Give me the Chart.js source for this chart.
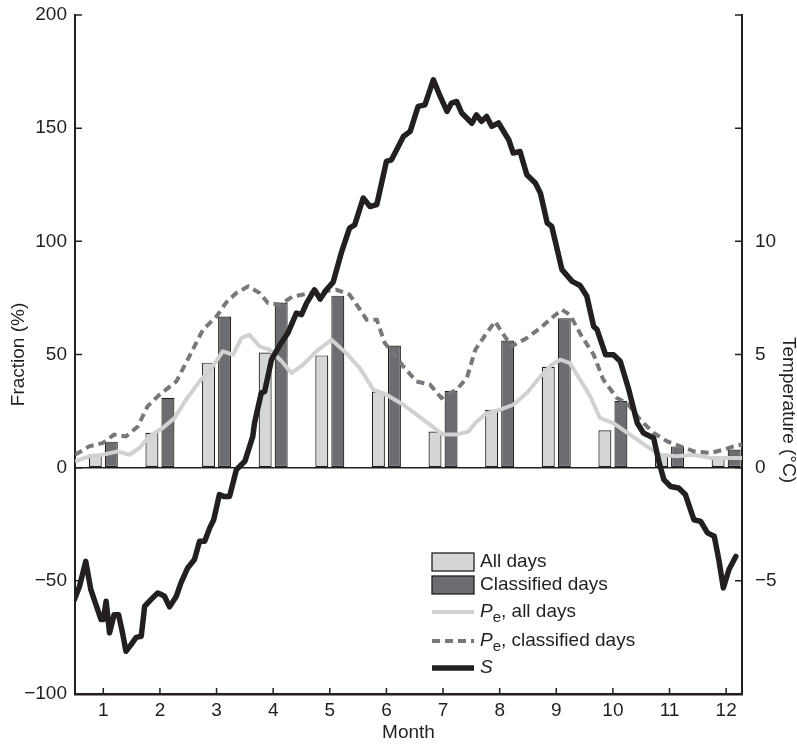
<!DOCTYPE html>
<html>
<head>
<meta charset="utf-8">
<script src="https://cdn.jsdelivr.net/npm/chart.js@4"></script>
<style>
  body { margin: 0; background: #fff; }
</style>
</head>
<body>
<canvas id="chart" width="797" height="746"></canvas>
<script>
// monthly bar fractions (%)
var months = [1, 2, 3, 4, 5, 6, 7, 8, 9, 10, 11, 12];
var allDays = [6, 15.4, 46.4, 50.9, 49.6, 33.6, 16, 25.6, 44.6, 16.5, 5.5, 5];
var classifiedDays = [11.5, 30.9, 66.8, 73, 76, 54, 34, 56.2, 66, 29.5, 9.4, 8];

// Pe, all days (light solid line)
var peAllMonth = [0.5, 0.75, 0.99, 1.25, 1.46, 1.64, 1.81, 2.05, 2.26, 2.46, 2.7, 2.91,
  3.11, 3.29, 3.44, 3.58, 3.76, 3.94, 4.15, 4.32, 4.53, 4.76, 5.03, 5.29, 5.53, 5.77,
  6.0, 6.3, 6.65, 7.0, 7.24, 7.45, 7.57, 7.77, 8.01, 8.24, 8.48, 8.72, 8.92, 9.07,
  9.24, 9.42, 9.6, 9.77, 10.01, 10.3, 10.6, 10.83, 11.13, 11.43, 11.73, 12.02, 12.28];
var peAllValue = [2.8, 5, 5.7, 7.2, 5.7, 8.7, 13.8, 17.5, 22, 30, 38.1, 44,
  51.4, 49.9, 57.3, 58.7, 53.6, 52.1, 47, 41.8, 45.5, 51.4, 56.5, 50.6, 44, 34.5,
  32.2, 27.8, 21.2, 14.6, 14.6, 16, 19.7, 24.1, 25.6, 27.8, 33, 40.3, 45.5, 47.7,
  46.2, 38.9, 31.5, 22, 19.7, 14.6, 9.4, 5.7, 5, 5.7, 4.3, 4.3, 4.3];

// Pe, classified days (dashed line)
var peClsMonth = [0.5, 0.75, 0.99, 1.19, 1.4, 1.61, 1.78, 1.99, 2.29, 2.52, 2.76, 3.0,
  3.17, 3.35, 3.56, 3.76, 3.91, 4.12, 4.35, 4.7, 5.12, 5.35, 5.53, 5.65, 5.83, 5.97,
  6.3, 6.53, 6.77, 6.97, 7.24, 7.42, 7.57, 7.77, 7.92, 8.01, 8.21, 8.48, 8.72, 8.95,
  9.1, 9.24, 9.45, 9.66, 9.83, 10.07, 10.25, 10.48, 10.72, 10.96, 11.19, 11.43, 11.73,
  11.96, 12.13, 12.28];
var peClsValue = [5.7, 9.4, 10.9, 14.6, 13.8, 18.2, 27.1, 32.2, 38.1, 49.2, 61, 66.8,
  73, 77.2, 80.1, 77.2, 72.7, 72, 75.7, 77.2, 78.6, 76.4, 70, 65.4, 65.4, 55.1,
  44.7, 38.1, 36.7, 30.8, 34.5, 39.6, 52.1, 59.5, 64.6, 61, 53.6, 57.3, 61.7, 66.8,
  69.8, 67.6, 58, 49.9, 38.9, 30.8, 28.6, 21.2, 15.3, 11.6, 9.4, 7.2, 6.5,
  8, 9.4, 10.2];

// S (thick black line)
var sMonth = [0.49, 0.58, 0.69, 0.78, 0.87, 0.96, 1.0, 1.05, 1.11, 1.19, 1.27, 1.34,
  1.4, 1.49, 1.58, 1.67, 1.73, 1.84, 1.96, 2.02, 2.08, 2.17, 2.29, 2.37, 2.49, 2.61,
  2.7, 2.79, 2.88, 2.95, 3.05, 3.13, 3.23, 3.35, 3.5, 3.64, 3.67, 3.79, 3.85, 3.97,
  4.12, 4.26, 4.41, 4.5, 4.59, 4.73, 4.83, 4.94, 5.06, 5.21, 5.35, 5.44, 5.59, 5.71,
  5.83, 6.0, 6.09, 6.3, 6.42, 6.56, 6.68, 6.83, 6.95, 7.07, 7.15, 7.24, 7.33, 7.51,
  7.59, 7.68, 7.77, 7.86, 7.98, 8.16, 8.24, 8.36, 8.48, 8.63, 8.72, 8.84, 8.92, 9.1,
  9.28, 9.42, 9.54, 9.66, 9.72, 9.87, 10.01, 10.13, 10.28, 10.43, 10.54, 10.72, 10.81,
  10.9, 11.02, 11.16, 11.28, 11.43, 11.55, 11.67, 11.79, 11.87, 11.95, 12.05, 12.17];
var sValue = [-58.3, -52.4, -41.4, -53.9, -60.5, -67.1, -67.1, -59, -73, -65, -65, -73,
  -81.1, -78.2, -75, -74.5, -61.3, -58.3, -55.4, -56, -56.8, -61.5, -56.8, -51, -44.3, -40.6,
  -32.5, -32.5, -26.6, -23, -11.9, -12.7, -12.7, -0.9, 2.8, 13.8, 19.7, 33, 33.7, 47.7,
  54.3, 59.5, 68.3, 67.6, 72.7, 78.6, 74.5, 78.6, 82, 95.5, 105.9, 107.3, 119.1, 115.4,
  116.2, 135.3, 136, 146.3, 148.6, 159.6, 160.3, 171.4, 164, 157.4, 161.1, 161.8, 156.7, 152.2,
  155.9, 153, 155.2, 150.8, 152.3, 144.9, 139, 139.7, 129.4, 125.8, 121.3, 108.1, 106.6, 87.5,
  82.3, 80.5, 75.7, 62.4, 61, 49.9, 49.9, 47, 34.5, 19.7, 15.3, 13.1, 2.8,
  -5.3, -8.3, -9, -11.9, -23, -23.7, -28.8, -30.3, -40.6, -53.1, -45, -39.2];

var INK = '#231f20';
var FONT = '"Liberation Sans", Arial, Helvetica, sans-serif';

function points(xs, ys) {
  return xs.map(function (x, i) { return { x : x, y : ys[i] }; });
}

function signed(v) {
  return String(v).replace('-', '\u2212');
}

// inward tick marks, in-plot legend and the right axis title
var decor = {
  id : 'decor',
  afterDraw : function (chart) {
    var ctx = chart.ctx;
    var area = chart.chartArea;
    var sx = chart.scales.x;
    var sy = chart.scales.y;
    var sy1 = chart.scales.y1;

    ctx.save();
    ctx.strokeStyle = INK;
    ctx.lineWidth = 1.5;
    ctx.beginPath();
    sx.ticks.forEach(function (t) {
      var p = sx.getPixelForValue(t.value);
      ctx.moveTo(p, area.bottom);
      ctx.lineTo(p, area.bottom - 6);
    });
    sy.ticks.forEach(function (t) {
      var p = sy.getPixelForValue(t.value);
      ctx.moveTo(area.left, p);
      ctx.lineTo(area.left + 7, p);
    });
    sy1.ticks.forEach(function (t) {
      var p = sy1.getPixelForValue(t.value);
      ctx.moveTo(area.right, p);
      ctx.lineTo(area.right - 7, p);
    });
    ctx.stroke();

    // legend
    var rows = [562, 585, 612, 641, 668];
    var boxX = 432, boxW = 42, textX = 480;
    ctx.textBaseline = 'middle';
    ctx.textAlign = 'left';
    ctx.fillStyle = INK;
    chart.data.datasets.forEach(function (ds) {
      var y = rows[ds.legendRow];
      ctx.save();
      if (ds.type === 'line') {
        ctx.strokeStyle = ds.borderColor;
        ctx.lineWidth = ds.borderWidth;
        ctx.setLineDash(ds.borderDash || []);
        ctx.beginPath();
        ctx.moveTo(boxX, y);
        ctx.lineTo(boxX + boxW, y);
        ctx.stroke();
      } else {
        ctx.fillStyle = ds.backgroundColor;
        ctx.fillRect(boxX, y - 9, boxW, 18);
        ctx.strokeStyle = ds.borderColor;
        ctx.lineWidth = 1.3;
        ctx.strokeRect(boxX, y - 9, boxW, 18);
      }
      ctx.restore();

      var x = textX;
      ds.legendParts.forEach(function (part) {
        var size = part.sub ? 15 : 19;
        ctx.font = (part.italic ? 'italic ' : '') + size + 'px ' + FONT;
        ctx.fillText(part.t, x, part.sub ? y + 6 : y);
        x += ctx.measureText(part.t).width;
      });
    });

    // right axis title
    ctx.translate(788, 410);
    ctx.rotate(Math.PI / 2);
    ctx.textAlign = 'center';
    ctx.font = '19px ' + FONT;
    ctx.fillText('Temperature (\u00b0C)', 0, 0);
    ctx.restore();
  },
};

var tickFont = { family : FONT, size : 19 };

// fixed axis boxes so the plot area sits where the original has it
function fitVertical(width) {
  return function (s) {
    s.width = width;
    s.paddingTop = 0;
    s.paddingBottom = 0;
  };
}

new Chart(document.getElementById('chart').getContext('2d'), {
  type : 'bar',
  data : {
    datasets : [
      {
        type : 'line',
        label : 'S',
        data : points(sMonth, sValue),
        borderColor : INK,
        borderWidth : 5.5,
        borderJoinStyle : 'round',
        borderCapStyle : 'round',
        pointRadius : 0,
        tension : 0,
        order : 0,
        legendRow : 4,
        legendParts : [{ t : 'S', italic : true }],
      },
      {
        type : 'line',
        label : 'Pe, classified days',
        data : points(peClsMonth, peClsValue),
        borderColor : '#77787b',
        borderWidth : 4,
        borderDash : [8, 5],
        pointRadius : 0,
        tension : 0,
        order : 1,
        legendRow : 3,
        legendParts : [{ t : 'P', italic : true }, { t : 'e', sub : true }, { t : ', classified days' }],
      },
      {
        type : 'line',
        label : 'Pe, all days',
        data : points(peAllMonth, peAllValue),
        borderColor : '#d0d1d3',
        borderWidth : 4,
        borderJoinStyle : 'round',
        pointRadius : 0,
        tension : 0,
        order : 2,
        legendRow : 2,
        legendParts : [{ t : 'P', italic : true }, { t : 'e', sub : true }, { t : ', all days' }],
      },
      {
        label : 'All days',
        data : points(months, allDays),
        backgroundColor : '#d5d6d8',
        borderColor : INK,
        borderWidth : 1.2,
        borderSkipped : false,
        categoryPercentage : 0.566,
        barPercentage : 0.81,
        order : 3,
        legendRow : 0,
        legendParts : [{ t : 'All days' }],
      },
      {
        label : 'Classified days',
        data : points(months, classifiedDays),
        backgroundColor : '#6c6d70',
        borderColor : INK,
        borderWidth : 1.2,
        borderSkipped : false,
        categoryPercentage : 0.566,
        barPercentage : 0.81,
        order : 3,
        legendRow : 1,
        legendParts : [{ t : 'Classified days' }],
      },
    ],
  },
  options : {
    responsive : false,
    animation : false,
    layout : { padding : { top : 15 } },
    plugins : {
      legend : { display : false },
      tooltip : { enabled : false },
    },
    scales : {
      x : {
        type : 'linear',
        min : 0.5,
        max : 12.28,
        offset : false,
        ticks : { stepSize : 1, includeBounds : false, padding : 5, font : tickFont, color : INK },
        grid : { display : false, drawTicks : false, offset : false },
        border : { color : INK, width : 2.5 },
        title : { display : true, text : 'Month', color : INK, font : tickFont, padding : { top : 0, bottom : 2 } },
        afterFit : function (s) {
          s.height = 52;
          s.paddingLeft = 0;
          s.paddingRight = 0;
        },
      },
      y : {
        min : -100,
        max : 200,
        ticks : { stepSize : 50, padding : 8, font : tickFont, color : INK, callback : signed },
        grid : {
          drawTicks : false,
          lineWidth : 1.5,
          color : function (c) { return c.tick && c.tick.value === 0 ? INK : 'rgba(0,0,0,0)'; },
        },
        border : { color : INK, width : 2 },
        title : { display : true, text : 'Fraction (%)', color : INK, font : tickFont, padding : { top : 7, bottom : 0 } },
        afterFit : fitVertical(75),
      },
      y1 : {
        position : 'right',
        min : -10,
        max : 20,
        ticks : {
          stepSize : 5,
          padding : 13,
          font : tickFont,
          color : INK,
          callback : function (v) { return (v > 10 || v < -5) ? '' : signed(v); },
        },
        grid : { display : false, drawTicks : false },
        border : { color : INK, width : 2 },
        afterFit : fitVertical(55),
      },
    },
  },
  plugins : [decor],
});
</script>
</body>
</html>
